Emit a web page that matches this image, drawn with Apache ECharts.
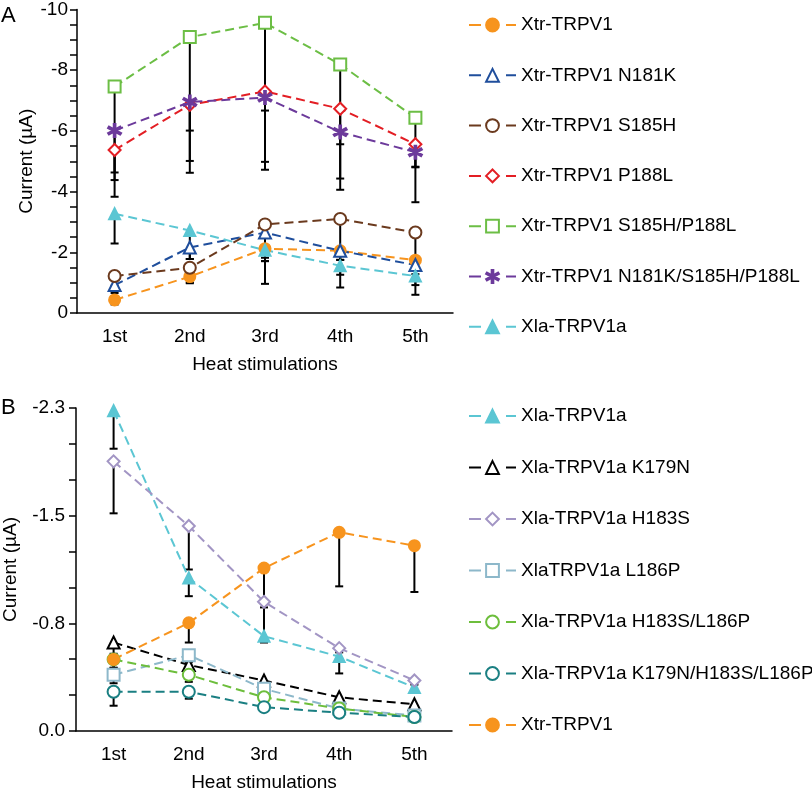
<!DOCTYPE html>
<html>
<head>
<meta charset="utf-8">
<script src="https://cdn.jsdelivr.net/npm/echarts@6/dist/echarts.min.js"></script>
<style>
html,body{margin:0;padding:0;background:#fff;}
#chart{width:812px;height:793px;}
</style>
</head>
<body>
<div id="chart"></div>
<script>
// ---------- data ----------
var categories = ['1st', '2nd', '3rd', '4th', '5th'];

// Panel A (µA)
var namesA = ['Xtr-TRPV1', 'Xtr-TRPV1 N181K', 'Xtr-TRPV1 S185H', 'Xtr-TRPV1 P188L',
              'Xtr-TRPV1 S185H/P188L', 'Xtr-TRPV1 N181K/S185H/P188L', 'Xla-TRPV1a'];
var xtrA        = [-0.43, -1.20, -2.12, -2.05, -1.74];
var n181kA      = [-0.92, -2.16, -2.65, -2.05, -1.58];
var s185hA      = [-1.22, -1.49, -2.92, -3.10, -2.65];
var p188lA      = [-5.37, -6.86, -7.30, -6.73, -5.56];
var s185hP188lA = [-7.46, -9.09, -9.56, -8.19, -6.43];
var tripleA     = [-6.01, -6.95, -7.10, -5.96, -5.30];
var xlaA        = [-3.27, -2.72, -2.07, -1.56, -1.22];

var xtrAErr        = [0.15, 0.20, 0.30, 0.30, 0.25];
var n181kAErr      = [0.26, 0.38, 0.94, 0.30, 0.30];
var s185hAErr      = [0.32, 0.51, 1.96, 2.26, 2.05];
var p188lAErr      = [0.74, 0.85, 2.32, 2.30, 0.74];
var s185hP188lAErr = [3.63, 4.47, 4.84, 4.13, 2.78];
var tripleAErr     = [1.63, 1.94, 0.43, 0.40, 0.50];
var xlaAErr        = [0.98, 0.94, 0.36, 0.30, 0.30];

// Panel B (µA)
var namesB = ['Xla-TRPV1a', 'Xla-TRPV1a K179N', 'Xla-TRPV1a H183S', 'XlaTRPV1a L186P',
              'Xla-TRPV1a H183S/L186P', 'Xla-TRPV1a K179N/H183S/L186P', 'Xtr-TRPV1'];
var xlaB        = [-2.28, -1.09, -0.675, -0.53, -0.31];
var k179nB      = [-0.63, -0.47, -0.36, -0.24, -0.19];
var h183sB      = [-1.92, -1.46, -0.92, -0.59, -0.36];
var l186pB      = [-0.40, -0.54, -0.30, -0.16, -0.11];
var h183sL186pB = [-0.51, -0.40, -0.24, -0.16, -0.10];
var tripleB     = [-0.28, -0.28, -0.17, -0.13, -0.10];
var xtrB        = [-0.51, -0.77, -1.16, -1.415, -1.32];

var xlaBErr        = [0.27, 0.13, 0.03, 0.12, 0.03];
var k179nBErr      = [0.08, 0.06, 0.04, 0.03, 0.03];
var h183sBErr      = [0.37, 0.31, 0.29, 0.03, 0.03];
var l186pBErr      = [0.06, 0.05, 0.04, 0.03, 0.02];
var h183sL186pBErr = [0.06, 0.05, 0.04, 0.03, 0.02];
var tripleBErr     = [0.10, 0.05, 0.03, 0.02, 0.02];
var xtrBErr        = [0.06, 0.14, 0.28, 0.385, 0.33];

var yTicksA = [0, -2, -4, -6, -8, -10];
var yTicksB = ['0.0', '-0.8', '-1.5', '-2.3'];

// ---------- styles ----------
var ORANGE = '#F7941E', BLUE = '#1F4E9C', BROWN = '#6B3A1E', RED = '#E31E24',
    GREEN = '#6CBE45', PURPLE = '#6C3A9B', CYAN = '#5BC6D3', BLACK = '#000000',
    LAV = '#A295C4', LBLUE = '#8DB8CA', GREEN2 = '#6DBE3C', TEAL = '#1A7F82';
var STAR = 'path://M-1.2,-10L1.2,-10L1.2,10L-1.2,10Z' +
           'M8.06,6.04L-9.26,-3.96L-8.06,-6.04L9.26,3.96Z' +
           'M-9.26,3.96L8.06,-6.04L9.26,-3.96L-8.06,6.04Z';
var FONT = "'Liberation Sans', Arial, Helvetica, sans-serif";

function lineSeries(name, data, color, symbol, size, gi) {
  return {
    type: 'line', name: name, data: data,
    xAxisIndex: gi, yAxisIndex: gi,
    symbol: symbol, symbolSize: size, z: 3,
    lineStyle: { color: color, width: 2, type: [9, 5] },
    itemStyle: { color: color, borderColor: color, borderWidth: 2 },
    emphasis: { disabled: true }
  };
}

function errData(vals, errs) {
  var out = [];
  for (var k = 0; k < vals.length; k++) {
    for (var i = 0; i < vals[k].length; i++) out.push([i, vals[k][i], errs[k][i]]);
  }
  return out;
}

function errSeries(gi, data) {
  return {
    type: 'custom', xAxisIndex: gi, yAxisIndex: gi, z: 2, silent: true,
    encode: { x: 0, y: 1 }, clip: false,
    data: data,
    renderItem: function (params, api) {
      var x = api.value(0), v = api.value(1), e = api.value(2);
      var p1 = api.coord([x, v]);
      var p2 = api.coord([x, v + e]);
      return {
        type: 'group', children: [
          { type: 'line', shape: { x1: p1[0], y1: p1[1], x2: p2[0], y2: p2[1] }, style: { stroke: '#000', lineWidth: 2 } },
          { type: 'line', shape: { x1: p2[0] - 4, y1: p2[1], x2: p2[0] + 4, y2: p2[1] }, style: { stroke: '#000', lineWidth: 2 } }
        ]
      };
    }
  };
}

function xAxisCfg(gi) {
  return {
    type: 'category', gridIndex: gi, data: categories, boundaryGap: true,
    name: 'Heat stimulations', nameLocation: 'middle', nameGap: 42,
    nameTextStyle: { fontSize: 19, color: '#000', fontFamily: FONT },
    axisLine: { lineStyle: { color: '#000', width: 1.5 } },
    axisTick: { length: 5, lineStyle: { color: '#000', width: 1.5 } },
    axisLabel: { fontSize: 19, color: '#000', fontFamily: FONT, margin: 14 },
    splitLine: { show: false }
  };
}

var ySpanB = 2.3;
var legendCommon = {
  orient: 'vertical', left: 468, padding: 0,
  itemWidth: 47, itemHeight: 16,
  textStyle: { fontSize: 19, color: '#000', fontFamily: FONT, lineHeight: 20 },
  lineStyle: { type: [12, 25, 10], width: 2 },
  selectedMode: false
};
var option = {
  animation: false,
  backgroundColor: '#fff',
  textStyle: { fontFamily: FONT },
  grid: [
    { left: 77, top: 7, width: 376, height: 306 },
    { left: 76, top: 408, width: 376, height: 325 }
  ],
  xAxis: [xAxisCfg(0), xAxisCfg(1)],
  yAxis: [
    {
      type: 'value', gridIndex: 0, inverse: true, min: -10, max: 0, interval: 2,
      name: 'Current (µA)', nameLocation: 'middle', nameGap: 39,
      nameTextStyle: { fontSize: 19, color: '#000', fontFamily: FONT },
      axisLine: { show: true, lineStyle: { color: '#000', width: 1.5 } },
      axisTick: { show: true, length: 7, lineStyle: { color: '#000', width: 1.5 } },
      minorTick: { show: true, splitNumber: 4, length: 7, lineStyle: { color: '#000', width: 1.5 } },
      axisLabel: { fontSize: 19, color: '#000', fontFamily: FONT, margin: 9,
        formatter: function (v) { var r = Math.round(v); return yTicksA.indexOf(r) >= 0 ? String(r) : ''; } },
      splitLine: { show: false }
    },
    {
      type: 'value', gridIndex: 1, inverse: true, min: -ySpanB, max: 0, interval: ySpanB / 3,
      name: 'Current (µA)', nameLocation: 'middle', nameGap: 56,
      nameTextStyle: { fontSize: 19, color: '#000', fontFamily: FONT },
      axisLine: { show: true, lineStyle: { color: '#000', width: 1.5 } },
      axisTick: { show: true, length: 7, lineStyle: { color: '#000', width: 1.5 } },
      minorTick: { show: true, splitNumber: 3, length: 7, lineStyle: { color: '#000', width: 1.5 } },
      axisLabel: { fontSize: 19, color: '#000', fontFamily: FONT, margin: 11,
        formatter: function (v) { var i = Math.round(Math.abs(v) / (ySpanB / 3)); return yTicksB[i] || ''; } },
      splitLine: { show: false }
    }
  ],
  legend: [
    Object.assign({}, legendCommon, { data: namesA, top: 15, itemGap: 30.3 }),
    Object.assign({}, legendCommon, { data: namesB, top: 406, itemGap: 31.5 })
  ],
  graphic: [
    { type: 'text', left: 1, top: 5, style: { text: 'A', fontSize: 22, fill: '#000', fontFamily: FONT } },
    { type: 'text', left: 1, top: 397, style: { text: 'B', fontSize: 22, fill: '#000', fontFamily: FONT } }
  ],
  series: [
    errSeries(0, errData([xtrA, n181kA, s185hA, p188lA, s185hP188lA, tripleA, xlaA],
                         [xtrAErr, n181kAErr, s185hAErr, p188lAErr, s185hP188lAErr, tripleAErr, xlaAErr])),
    lineSeries(namesA[0], xtrA, ORANGE, 'circle', 11, 0),
    lineSeries(namesA[1], n181kA, BLUE, 'emptyTriangle', 12, 0),
    lineSeries(namesA[2], s185hA, BROWN, 'emptyCircle', 12, 0),
    lineSeries(namesA[3], p188lA, RED, 'emptyDiamond', 12, 0),
    lineSeries(namesA[4], s185hP188lA, GREEN, 'emptyRect', 12, 0),
    lineSeries(namesA[5], tripleA, PURPLE, STAR, 13, 0),
    lineSeries(namesA[6], xlaA, CYAN, 'triangle', 11, 0),

    errSeries(1, errData([xlaB, k179nB, h183sB, l186pB, h183sL186pB, tripleB, xtrB],
                         [xlaBErr, k179nBErr, h183sBErr, l186pBErr, h183sL186pBErr, tripleBErr, xtrBErr])),
    lineSeries(namesB[0], xlaB, CYAN, 'triangle', 11, 1),
    lineSeries(namesB[1], k179nB, BLACK, 'emptyTriangle', 12, 1),
    lineSeries(namesB[2], h183sB, LAV, 'emptyDiamond', 12, 1),
    lineSeries(namesB[3], l186pB, LBLUE, 'emptyRect', 12, 1),
    lineSeries(namesB[4], h183sL186pB, GREEN2, 'emptyCircle', 12, 1),
    lineSeries(namesB[5], tripleB, TEAL, 'emptyCircle', 12, 1),
    lineSeries(namesB[6], xtrB, ORANGE, 'circle', 11, 1)
  ]
};

var chart = echarts.init(document.getElementById('chart'), null, { renderer: 'canvas' });
chart.setOption(option);
</script>
</body>
</html>
